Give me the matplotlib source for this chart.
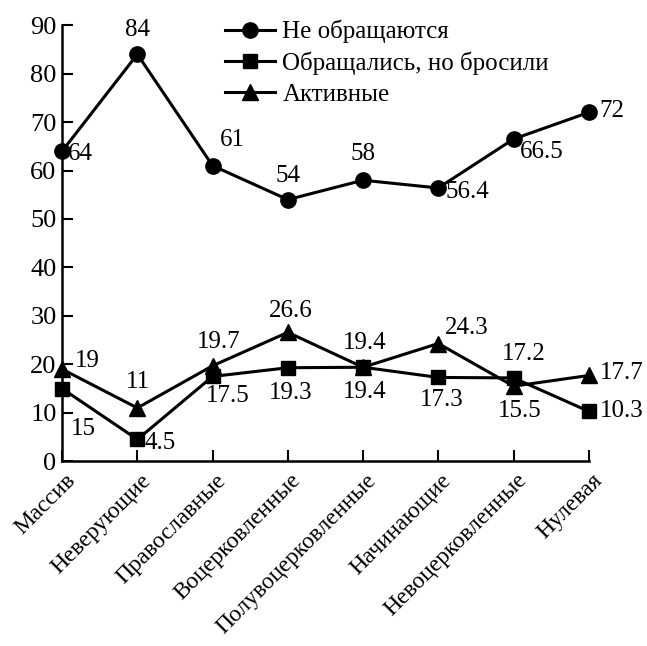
import matplotlib
matplotlib.use("Agg")
import matplotlib.pyplot as plt
from matplotlib.transforms import offset_copy

plt.rcParams['font.family'] = ['Liberation Serif', 'DejaVu Serif']

categories = ['Массив', 'Неверующие', 'Православные', 'Воцерковленные',
              'Полувоцерковленные', 'Начинающие', 'Невоцерковленные', 'Нулевая']
not_attending = [64, 84, 61, 54, 58, 56.4, 66.5, 72]
attended_quit = [15, 4.5, 17.5, 19.3, 19.4, 17.3, 17.2, 10.3]
active = [19, 11, 19.7, 26.6, 19.4, 24.3, 15.5, 17.7]

labels_1 = ['64', '84', '61', '54', '58', '56.4', '66.5', '72']
labels_2 = ['15', '4.5', '17.5', '19.3', '19.4', '17.3', '17.2', '10.3']
labels_3 = ['19', '11', '19.7', '26.6', '19.4', '24.3', '15.5', '17.7']
yticks = [0, 10, 20, 30, 40, 50, 60, 70, 80, 90]

# label offsets in pixels (dx, dy, ha)
off_1 = [(6, -3, 'left'), (0, 24, 'center'), (7, 26, 'left'), (0, 24, 'center'),
         (0, 26, 'center'), (7, -4, 'left'), (6, -13, 'left'), (11, 1, 'left')]
off_2 = [(9, -40, 'left'), (7, -4, 'left'), (15, -20, 'center'), (3, -25, 'center'),
         (2, -25, 'center'), (3, -23, 'center'), (10, 24, 'center'), (11, 0, 'left')]
off_3 = [(13, 8, 'left'), (1, 26, 'center'), (6, 24, 'center'), (3, 21, 'center'),
         (2, 24, 'center'), (7, 16, 'left'), (6, -25, 'center'), (11, 2, 'left')]

fig = plt.figure(figsize=(6.47, 6.46), dpi=100)
ax = fig.add_axes([0.096, 0.286, 0.814, 0.675])

x = list(range(len(categories)))
ax.plot(x, not_attending, '-o', color='black', lw=2.2, ms=11, label='Не обращаются', clip_on=False)
ax.plot(x, attended_quit, '-s', color='black', lw=2.2, ms=10, label='Обращались, но бросили', clip_on=False)
ax.plot(x, active, '-^', color='black', lw=2.2, ms=11, label='Активные', clip_on=False)

for vals, labs, offs in [(not_attending, labels_1, off_1),
                         (attended_quit, labels_2, off_2),
                         (active, labels_3, off_3)]:
    for xi, v, lab, (dx, dy, ha) in zip(x, vals, labs, offs):
        ax.annotate(lab, (xi, v), xytext=(dx, dy), textcoords='offset pixels',
                    ha=ha, va='center', fontsize=18)

ax.set_xlim(0, 7)
ax.set_ylim(0, 90)
ax.set_yticks(yticks)
ax.set_xticks(x)
ax.set_xticklabels([])
# category names drawn as rotated text, shifted a bit right of each tick
lab_trans = offset_copy(ax.get_xaxis_transform(), fig=fig, x=10, y=-16, units='dots')
for xi, name in zip(x, categories):
    ax.text(xi, 0, name, transform=lab_trans, rotation=45, ha='right', va='center',
            rotation_mode='anchor', fontsize=17, clip_on=False)

ax.tick_params(axis='y', direction='in', length=8, width=1.5, labelsize=19, pad=4)
ax.tick_params(axis='x', direction='in', length=8, width=1.5)
for s in ['top', 'right']:
    ax.spines[s].set_visible(False)
for s in ['left', 'bottom']:
    ax.spines[s].set_linewidth(1.8)

leg = ax.legend(loc='upper left', bbox_to_anchor=(0.309, 1.012), frameon=False,
                fontsize=18, handlelength=2.0, handletextpad=0.3, labelspacing=0.33,
                borderpad=0, borderaxespad=0)

fig.savefig('out.png', dpi=100)
